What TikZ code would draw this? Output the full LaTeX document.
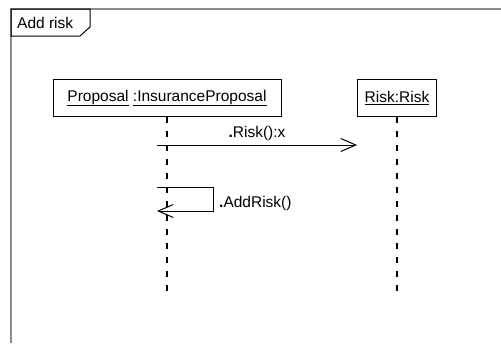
\documentclass[tikz,border=0pt]{standalone}
\usepackage{fontspec}
\setmainfont{Liberation Sans}
\usetikzlibrary{arrows.meta,positioning}

\tikzset{
	object/.style={draw,line width=1pt,minimum height=37pt,inner sep=2pt,font=\fontsize{15.5}{18}\selectfont},
	lifeline/.style={line width=1.2pt,dash pattern=on 6pt off 8pt},
	message/.style={->,line width=1pt},
	msglabel/.style={font=\fontsize{15.5}{18}\selectfont,inner sep=1pt}
}

\begin{document}
\begin{tikzpicture}[x=1pt,y=-1pt,>={Straight Barb[length=15pt,width=13pt,line width=1pt]}]
	
	\useasboundingbox (0,0) rectangle (501,343);
	
	% The frame
	\draw[line width=1.5pt,black!45] (501,9) -- (11,9) -- (11,343);
	\draw[line width=1pt] (11,9) -- (90,9) -- (90,27) -- (80,36) -- (11,36) -- cycle;
	\node[msglabel,anchor=west] (title) at (16,23) {Add risk};
	
	% The objects
	\node[object,minimum width=228pt] (proposal) at (167,98) {\underline{Proposal}\ \underline{:InsuranceProposal}};
	\node[object,minimum width=79pt] (risk) at (397,98) {\underline{Risk:Risk}};
	
	% The lifelines
	\coordinate (proposalend) at (167,295);
	\coordinate (riskend) at (397,295);
	\draw[lifeline] (proposal.south) -- (proposalend);
	\draw[lifeline] (risk.south) -- (riskend);
	
	% The messages
	\coordinate (callstart) at (157,145);
	\coordinate (callend) at (357,145);
	\draw[message] (callstart) -- (callend) node[msglabel,midway,above=3pt] (riskcall) {{\bfseries .}Risk():x};
	
	\coordinate (selfstart) at (157,187);
	\coordinate (selfend) at (157,211);
	\draw[message] (selfstart) -- (213,187) -- (213,211) -- (selfend);
	\node[msglabel,anchor=west] (addrisk) at (218,203) {{\bfseries .}AddRisk()};

\end{tikzpicture}
\end{document}
